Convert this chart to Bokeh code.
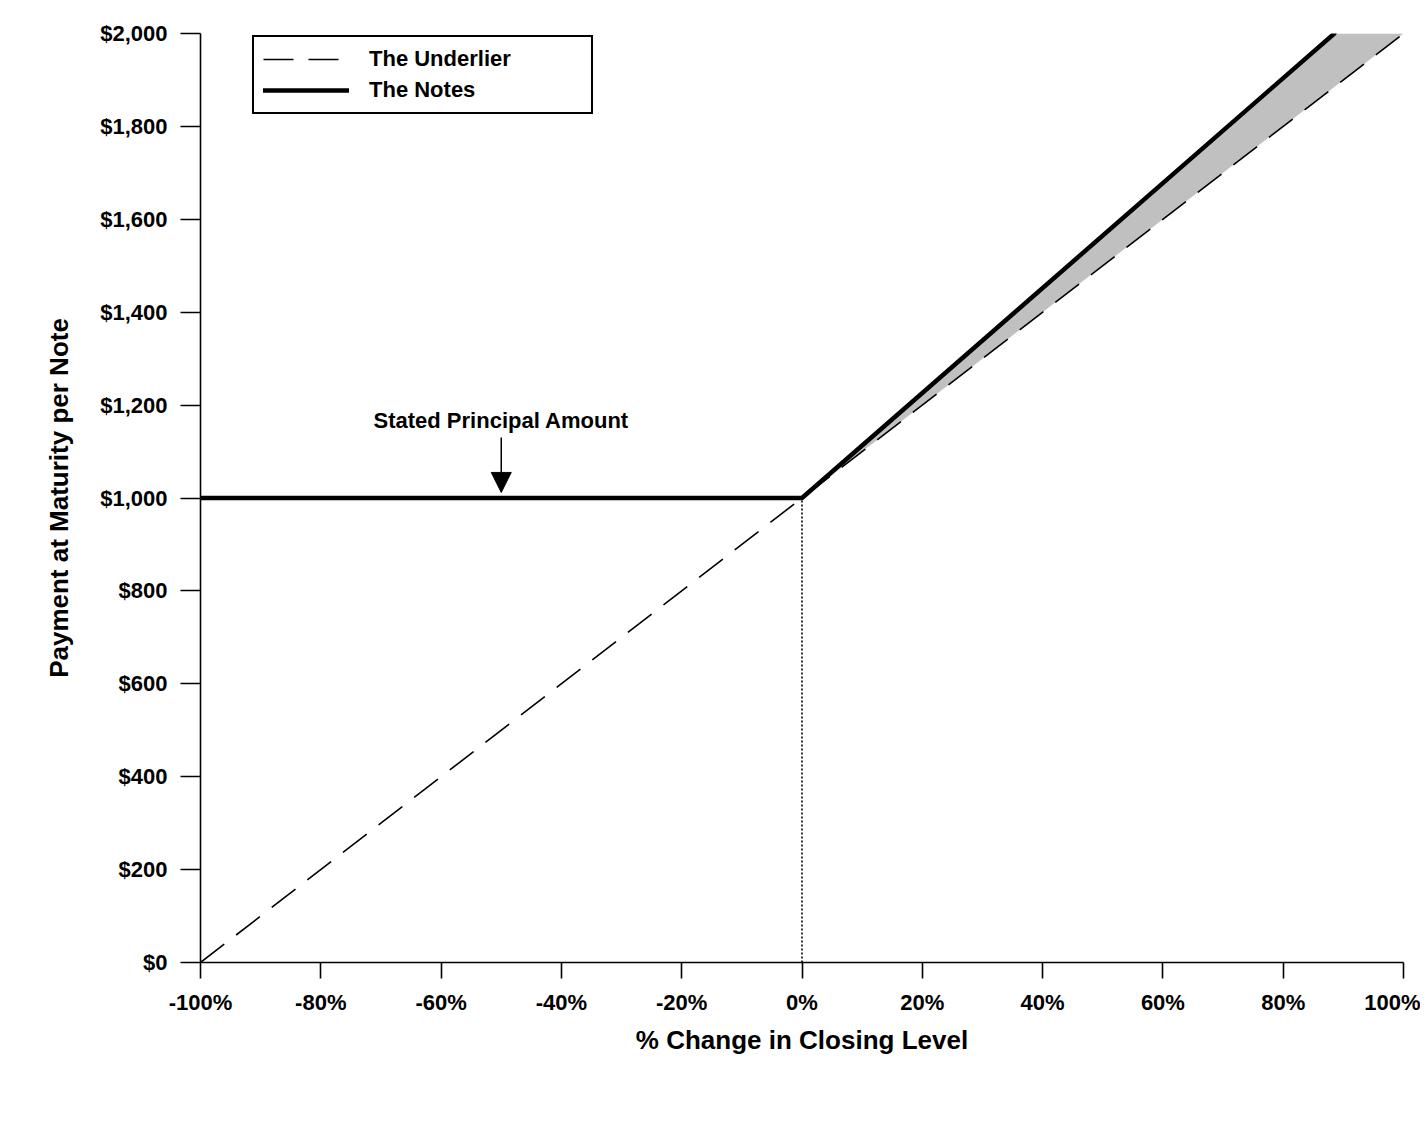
import numpy as np
from bokeh.plotting import figure
from bokeh.models import (Range1d, FixedTicker, NumeralTickFormatter, Label, Arrow,
                          NormalHead, Legend, LegendItem)
from bokeh.embed import file_html
from bokeh.resources import INLINE

# ---- data ----
x_ticks = [-100, -80, -60, -40, -20, 0, 20, 40, 60, 80, 100]
x_tick_labels = ["-100%", "-80%", "-60%", "-40%", "-20%", "0%", "20%", "40%", "60%", "80%", "100%"]
y_ticks = [0, 200, 400, 600, 800, 1000, 1200, 1400, 1600, 1800, 2000]

underlier_x = [-100, 100]
underlier_y = [0, 2000]

notes_x = [-100, 0, 88.5]
notes_y = [1000, 1000, 2000]

principal_x = -50
principal_y = 1000
principal_text = "Stated Principal Amount"

FONT = "Liberation Sans"

p = figure(width=1420, height=1100, output_backend="svg", toolbar_location=None,
           x_range=Range1d(-100, 100), y_range=Range1d(0, 2000),
           min_border_left=200, min_border_right=17, min_border_top=33, min_border_bottom=138)
p.outline_line_color = None
p.grid.visible = False
p.background_fill_color = "white"
p.border_fill_color = "white"

# shaded area between notes and underlier on the upside
fill_x = np.array([0, notes_x[2], underlier_x[1]], dtype=float)
fill_low = np.interp(fill_x, underlier_x, underlier_y)
fill_high = np.minimum(np.interp(fill_x, notes_x, notes_y), max(y_ticks))
p.varea(x=fill_x, y1=fill_low, y2=fill_high, fill_color="#c0c0c0")

# dotted vertical at 0%
p.line(x=[notes_x[1], notes_x[1]], y=[underlier_y[0], notes_y[1]], line_color="black",
       line_width=1.6, line_dash="2 2")

r_und = p.line(x=underlier_x, y=underlier_y, line_color="black", line_width=1.6, line_dash="30 15")
r_notes = p.line(x=notes_x, y=notes_y, line_color="black", line_width=4.5, line_cap="round")

# annotation
p.add_layout(Arrow(end=NormalHead(size=20, fill_color="black", line_color="black"),
                   x_start=principal_x, y_start=principal_y + 130,
                   x_end=principal_x, y_end=principal_y + 12,
                   line_color="black", line_width=1.5))
p.add_layout(Label(x=principal_x, y=principal_y + 167, text=principal_text,
                   text_align="center", text_baseline="middle",
                   text_font=FONT, text_font_size="22px", text_font_style="bold", text_color="black"))

# legend
legend = Legend(items=[LegendItem(label="The Underlier", renderers=[r_und]),
                       LegendItem(label="The Notes", renderers=[r_notes])],
                location=(52, 848))
legend.padding = 9
legend.margin = 0
legend.spacing = 5
legend.glyph_width = 86
legend.glyph_height = 22
legend.label_height = 22
legend.label_width = 213
legend.label_standoff = 20
legend.label_text_font = FONT
legend.label_text_font_size = "22px"
legend.label_text_font_style = "bold"
legend.label_text_color = "black"
legend.border_line_color = "black"
legend.border_line_alpha = 1
legend.border_line_width = 2
legend.background_fill_alpha = 1
p.add_layout(legend, "center")

# axes
xa = p.xaxis[0]
xa.ticker = FixedTicker(ticks=x_ticks)
xa.major_label_overrides = {t: l for t, l in zip(x_ticks, x_tick_labels)}
xa.axis_label = "% Change in Closing Level"
ya = p.yaxis[0]
ya.ticker = FixedTicker(ticks=y_ticks)
ya.formatter = NumeralTickFormatter(format="$0,0")
ya.axis_label = "Payment at Maturity per Note"

for ax in (xa, ya):
    ax.axis_line_color = "black"
    ax.axis_line_width = 1.6
    ax.major_tick_line_color = "black"
    ax.major_tick_line_width = 1.6
    ax.major_tick_in = 0
    ax.minor_tick_line_color = None
    ax.major_label_text_font = FONT
    ax.major_label_text_font_size = "22px"
    ax.major_label_text_font_style = "bold"
    ax.major_label_text_color = "black"
    ax.axis_label_text_font = FONT
    ax.axis_label_text_font_size = "26px"
    ax.axis_label_text_font_style = "bold"
    ax.axis_label_text_color = "black"

xa.major_tick_out = 16
xa.major_label_standoff = 11
xa.axis_label_standoff = 7
ya.major_tick_out = 20
ya.major_label_standoff = 13
ya.axis_label_standoff = 23

open("out.html", "w").write(file_html(p, INLINE))
